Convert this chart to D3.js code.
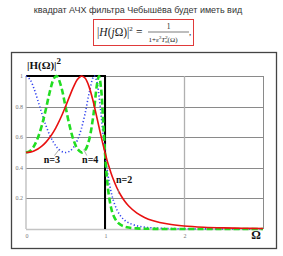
<!DOCTYPE html>
<html><head><meta charset="utf-8">
<script src="https://cdn.jsdelivr.net/npm/d3@7/dist/d3.min.js"></script>
<style>body{margin:0;background:#fff;overflow:hidden}</style></head>
<body><svg id="c" width="283" height="256"></svg>
<script>
// Ω sample points
const omega=[0,0.05,0.1,0.15,0.2,0.25,0.3,0.35,0.383,0.4,0.45,0.5,0.55,0.6,0.65,0.7,0.707,0.75,0.8,0.85,0.866,0.9,0.924,0.95,0.975,1.0,1.025,1.05,1.075,1.1,1.15,1.2,1.25,1.3,1.4,1.5,1.6,1.8,2.0,2.25,2.5,2.75,3.0];
// |H(Ω)|²
const n2=[0.5,0.5025,0.5101,0.523,0.5416,0.5664,0.598,0.6369,0.667,0.6838,0.7385,0.8,0.865,0.9273,0.9765,0.9996,1.0,0.9846,0.9273,0.8347,0.8001,0.7223,0.6664,0.6068,0.5518,0.5,0.4519,0.4078,0.3677,0.3315,0.2698,0.2205,0.1813,0.1501,0.105,0.0755,0.0556,0.0322,0.02,0.0119,0.0075,0.005,0.0034];
const n3=[1.0,0.9781,0.9194,0.84,0.7561,0.679,0.6145,0.5644,0.5393,0.5288,0.5073,0.5,0.5078,0.533,0.5797,0.6536,0.6665,0.7596,0.8898,0.9913,1.0,0.9554,0.8717,0.7487,0.6203,0.5,0.397,0.3133,0.2474,0.1962,0.126,0.0835,0.0571,0.0402,0.0213,0.0122,0.0074,0.0031,0.0015,0.0007,0.0003,0.0002,0.0001];
const n4=[0.5,0.5101,0.5412,0.5956,0.6757,0.7799,0.8938,0.9808,1.0,0.9944,0.9215,0.8,0.6788,0.5845,0.5246,0.5004,0.5,0.5159,0.5845,0.7327,0.7999,0.9493,1.0,0.9194,0.7194,0.5,0.3298,0.2162,0.1439,0.0981,0.0489,0.0264,0.0153,0.0093,0.0039,0.0018,0.0009,0.0003,0.0001,0,0,0,0];
const idealX=[0,1,1];
const idealY=[1,1,0];
const xTicks=[0,1,2];
const yTicks=[0.2,0.4,0.6,0.8,1];
const yTickLabels=["0.2","0.4","0.6","0.8","1"];
const curveNames=["n=3","n=4","n=2"];
const labelOmega=[0.225,0.71,1.14];
const labelVal=[0.43,0.43,0.3];

const svg=d3.select("#c");
const x=d3.scaleLinear().domain([0,3]).range([26,263]);
const y=d3.scaleLinear().domain([0,1]).range([229,76]);

// header
svg.append("text").attr("x",138).attr("y",13).attr("text-anchor","middle")
  .attr("font-family","Liberation Sans, Arial, sans-serif").attr("font-size",9).attr("fill","#333")
  .text("квадрат АЧХ фильтра Чебышёва будет иметь вид");

// formula box
svg.append("rect").attr("x",93.5).attr("y",19.5).attr("width",100).attr("height",26)
  .attr("fill","none").attr("stroke","#e03a3a").attr("stroke-width",1);
const serif="Liberation Serif, Times New Roman, serif";
const f=svg.append("text").attr("x",97).attr("y",36).attr("font-family",serif).attr("font-size",11.5).attr("fill","#222");
f.append("tspan").text("|");
f.append("tspan").attr("font-style","italic").text("H");
f.append("tspan").text("(");
f.append("tspan").attr("font-style","italic").text("j");
f.append("tspan").text("Ω)|");
f.append("tspan").attr("font-size",7).attr("dy",-5).text("2");
svg.append("text").attr("x",136).attr("y",36).attr("font-family",serif).attr("font-size",11.5).attr("fill","#222").text("=");
svg.append("text").attr("x",168.5).attr("y",29).attr("text-anchor","middle").attr("font-family",serif).attr("font-size",7.5).attr("fill","#222").text("1");
svg.append("line").attr("x1",148).attr("x2",189).attr("y1",32).attr("y2",32).attr("stroke","#222").attr("stroke-width",0.6);
const d=svg.append("text").attr("x",148.5).attr("y",41.5).attr("font-family",serif).attr("font-size",7).attr("fill","#222");
d.append("tspan").text("1+ε");
d.append("tspan").attr("font-size",4.8).attr("dy",-2.5).text("2");
d.append("tspan").attr("font-style","italic").attr("dy",2.5).text("T");
d.append("tspan").attr("font-size",4.8).attr("dy",-2.5).text("2");
d.append("tspan").attr("font-size",4.8).attr("font-style","italic").attr("dx",-2.4).attr("dy",4).text("n");
d.append("tspan").attr("dy",-1.5).text("(Ω)");
svg.append("text").attr("x",189).attr("y",35).attr("font-family",serif).attr("font-size",9).attr("fill","#222").text(",");

// outer frame
svg.append("rect").attr("x",11.5).attr("y",52.5).attr("width",265).attr("height",196)
  .attr("fill","none").attr("stroke","#444").attr("stroke-width",1.3);

// grid
svg.selectAll(".hg").data(yTicks).join("line")
  .attr("x1",x(0)).attr("x2",x(3)).attr("y1",v=>Math.round(y(v))+0.5).attr("y2",v=>Math.round(y(v))+0.5)
  .attr("stroke","#8a8a8a").attr("stroke-width",1);
svg.selectAll(".vg").data([1,2]).join("line")
  .attr("x1",v=>Math.round(x(v))+0.5).attr("x2",v=>Math.round(x(v))+0.5).attr("y1",y(1)).attr("y2",y(0))
  .attr("stroke","#b0b0b0").attr("stroke-width",1.3);
svg.append("line").attr("x1",x(3)+0.5).attr("x2",x(3)+0.5).attr("y1",y(1)).attr("y2",y(0)).attr("stroke","#8a8a8a");
svg.append("line").attr("x1",x(0)).attr("x2",x(0)).attr("y1",y(1)).attr("y2",y(0)).attr("stroke","#bbb").attr("stroke-width",1.3);
svg.append("line").attr("x1",x(0)).attr("x2",x(3)).attr("y1",y(0)+0.5).attr("y2",y(0)+0.5).attr("stroke","#c4c4c4").attr("stroke-width",1.3);

// tick labels
svg.selectAll(".yt").data(yTicks).join("text")
  .attr("x",23).attr("y",v=>y(v)+2).attr("text-anchor","end")
  .attr("font-family",serif).attr("font-size",6).attr("fill","#777")
  .text((v,i)=>yTickLabels[i]);
svg.selectAll(".xt").data(xTicks).join("text")
  .attr("x",v=>x(v)+1).attr("y",238).attr("text-anchor","middle")
  .attr("font-family",serif).attr("font-size",6).attr("fill","#777")
  .text(v=>String(v));
svg.append("text").attr("x",256).attr("y",239).attr("text-anchor","middle")
  .attr("font-family",serif).attr("font-weight","bold").attr("font-size",12).attr("fill","#111").text("Ω");

// y label
const yl=svg.append("text").attr("x",27).attr("y",69).attr("font-family",serif).attr("font-weight","bold").attr("font-size",11).attr("fill","#111");
yl.append("tspan").text("|H(Ω)|");
yl.append("tspan").attr("font-size",9).attr("dy",-5).text("2");

// ideal
const idealLine=d3.line().x(i=>x(idealX[i])).y(i=>y(idealY[i]));
svg.append("path").attr("d",idealLine(d3.range(idealX.length))).attr("fill","none")
  .attr("stroke","#000").attr("stroke-width",2);

const line=vals=>d3.line().curve(d3.curveCatmullRom).x((v,i)=>x(omega[i])).y(v=>y(v))(vals);
svg.append("path").attr("d",line(n3)).attr("fill","none").attr("stroke","#3344ee").attr("stroke-width",1.6).attr("stroke-dasharray","1.2,2.2");
svg.append("path").attr("d",line(n4)).attr("fill","none").attr("stroke","#22dd22").attr("stroke-width",2.6).attr("stroke-dasharray","6,3");
svg.append("path").attr("d",line(n2)).attr("fill","none").attr("stroke","#e81010").attr("stroke-width",1.6);

// curve labels
svg.selectAll(".cl").data(curveNames).join("text")
  .attr("x",(t,i)=>x(labelOmega[i])).attr("y",(t,i)=>y(labelVal[i]))
  .attr("font-family",serif).attr("font-weight","bold").attr("font-size",10).attr("fill","#111")
  .text(t=>t);
// leader lines
const leadA=[[0.36,0.48],[0.77,0.48],[1.17,0.26]];
const leadB=[[0.42,0.52],[0.73,0.52],[1.17,0.23]];
svg.selectAll(".ld").data(leadA).join("line")
  .attr("x1",(p)=>x(p[0])).attr("y1",p=>y(p[1]))
  .attr("x2",(p,i)=>x(leadB[i][0])).attr("y2",(p,i)=>y(leadB[i][1]))
  .attr("stroke","#888").attr("stroke-width",0.7);
</script></body></html>
